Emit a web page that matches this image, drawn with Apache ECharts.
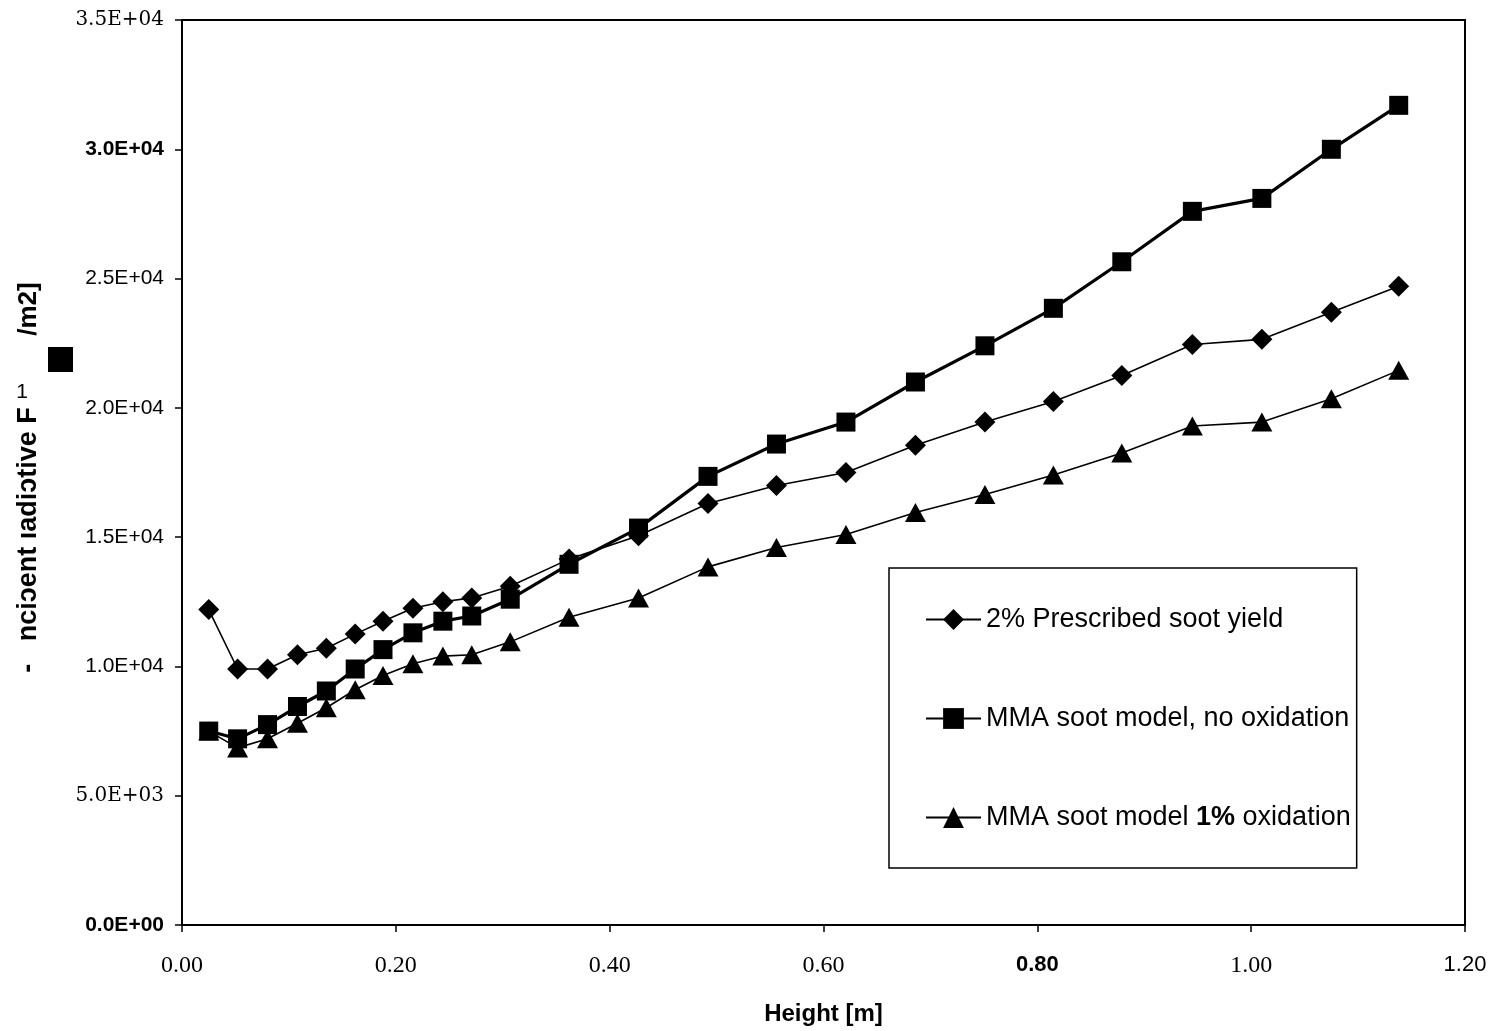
<!DOCTYPE html>
<html>
<head>
<meta charset="utf-8">
<script src="https://cdn.jsdelivr.net/npm/echarts@6/dist/echarts.min.js"></script>
<style>
html,body{margin:0;padding:0;background:#fff;}
#chart{width:1492px;height:1031px;}
</style>
</head>
<body>
<div id="chart"></div>
<script>
// Heights [m]
const heights = [0.025,0.052,0.080,0.108,0.135,0.162,0.188,0.216,0.244,0.271,0.307,0.362,0.427,0.492,0.556,0.621,0.686,0.751,0.815,0.879,0.945,1.010,1.075,1.138];
// 2% Prescribed soot yield
const prescribed = [12200,9900,9900,10450,10700,11250,11750,12250,12500,12650,13100,14150,15050,16300,17000,17500,18550,19450,20250,21250,22450,22650,23700,24700];
// MMA soot model, no oxidation
const noOxidation = [7500,7200,7750,8450,9050,9900,10650,11300,11750,11950,12600,13950,15350,17350,18600,19450,21000,22400,23850,25650,27600,28100,30000,31700];
// MMA soot model 1% oxidation
const oxidation1 = [7500,6850,7200,7800,8400,9100,9650,10100,10400,10450,10950,11900,12650,13850,14600,15100,15950,16650,17400,18250,19300,19450,20350,21450];

const seriesNames = ['2% Prescribed soot yield','MMA soot model, no oxidation','MMA soot model 1% oxidation'];
const xTickLabels = ['0.00','0.20','0.40','0.60','0.80','1.00','1.20'];
const yTickLabels = ['0.0E+00','5.0E+03','1.0E+04','1.5E+04','2.0E+04','2.5E+04','3.0E+04','3.5E+04'];
const xLabelStyles = ['s','s','s','s','b','s','n'];
const yLabelStyles = ['b','s','n','n','n','n','b','s'];

const pair = arr => heights.map((h,i)=>[h,arr[i]]);

const chart = echarts.init(document.getElementById('chart'), null, {renderer:'canvas'});
chart.setOption({
  backgroundColor:'#ffffff',
  animation:false,
  grid:{left:182,right:27,top:20,bottom:106,show:true,borderColor:'#000',borderWidth:2,backgroundColor:'transparent'},
  xAxis:{
    type:'value',min:0,max:1.2,interval:0.2,
    axisLine:{show:true,lineStyle:{color:'#000',width:2}},
    axisTick:{show:true,inside:false,length:7,lineStyle:{color:'#000',width:1.5}},
    splitLine:{show:false},
    axisLabel:{margin:29,color:'#000',
      formatter:v=>{const i=Math.round(v/0.2);return '{'+xLabelStyles[i]+'|'+xTickLabels[i]+'}';},
      rich:{
        s:{fontFamily:'"Liberation Serif", serif',fontSize:24,color:'#000'},
        b:{fontFamily:'"Liberation Sans", Arial, sans-serif',fontSize:22,fontWeight:'bold',color:'#000'},
        n:{fontFamily:'"Liberation Sans Narrow","Liberation Sans", sans-serif',fontSize:22,color:'#000'}
      }},
    name:'Height [m]',nameLocation:'middle',nameGap:77,
    nameTextStyle:{fontFamily:'"Liberation Sans", Arial, sans-serif',fontSize:24,fontWeight:'bold',color:'#000'}
  },
  yAxis:{
    type:'value',min:0,max:35000,interval:5000,
    axisLine:{show:true,lineStyle:{color:'#000',width:2}},
    axisTick:{show:true,inside:false,length:7,lineStyle:{color:'#000',width:1.5}},
    splitLine:{show:false},
    axisLabel:{margin:18,color:'#000',
      formatter:v=>{const i=Math.round(v/5000);return '{'+yLabelStyles[i]+'|'+yTickLabels[i]+'}';},
      rich:{
        s:{fontFamily:'"DejaVu Serif", serif',fontSize:20,color:'#000'},
        b:{fontFamily:'"Liberation Sans", Arial, sans-serif',fontSize:21,fontWeight:'bold',color:'#000'},
        n:{fontFamily:'"Liberation Sans", Arial, sans-serif',fontSize:21,color:'#000'}
      }}
  },
  legend:{
    show:true,orient:'vertical',left:889,top:568,
    data:seriesNames,
    backgroundColor:'#fff',borderColor:'#000',borderWidth:1.5,
    padding:[38,6,37,36],itemGap:72,itemWidth:55,itemHeight:26,
    textStyle:{fontFamily:'"Liberation Sans", Arial, sans-serif',fontSize:27,color:'#000',
      rich:{n:{fontFamily:'"Liberation Sans", Arial, sans-serif',fontSize:27,color:'#000'},
            b:{fontFamily:'"Liberation Sans", Arial, sans-serif',fontSize:27,fontWeight:'bold',color:'#000'}}},
    formatter:name=>{
      if(name===seriesNames[2]) return '{n|MMA soot model }{b|1%}{n| oxidation}';
      return name;
    }
  },
  series:[
    {name:seriesNames[0],type:'line',data:pair(prescribed),symbol:'diamond',symbolSize:21,z:3,
      lineStyle:{color:'#000',width:1.6},itemStyle:{color:'#000'}},
    {name:seriesNames[1],type:'line',data:pair(noOxidation),symbol:'rect',symbolSize:19,z:4,
      lineStyle:{color:'#000',width:3.2},itemStyle:{color:'#000'}},
    {name:seriesNames[2],type:'line',data:pair(oxidation1),symbol:'triangle',symbolSize:[21,19],z:2,
      lineStyle:{color:'#000',width:1.6},itemStyle:{color:'#000'}}
  ],
  graphic:[
    {type:'text',x:29,y:540,rotation:Math.PI/2,z:10,
      style:{text:'-   nci\u2184ent \u0131adi\u2184tive F',font:'bold 27px "Liberation Sans", Arial, sans-serif',fill:'#000',textAlign:'center',textVerticalAlign:'middle'}},
    {type:'text',x:22,y:392,z:10,
      style:{text:'1',font:'21px "Liberation Sans", Arial, sans-serif',fill:'#000',textAlign:'center',textVerticalAlign:'middle'}},
    {type:'rect',z:10,shape:{x:48,y:347,width:25,height:25},style:{fill:'#000'}},
    {type:'text',x:29,y:309,rotation:Math.PI/2,z:10,
      style:{text:'/m2]',font:'bold 26px "Liberation Sans", Arial, sans-serif',fill:'#000',textAlign:'center',textVerticalAlign:'middle'}}
  ]
});
</script>
</body>
</html>
